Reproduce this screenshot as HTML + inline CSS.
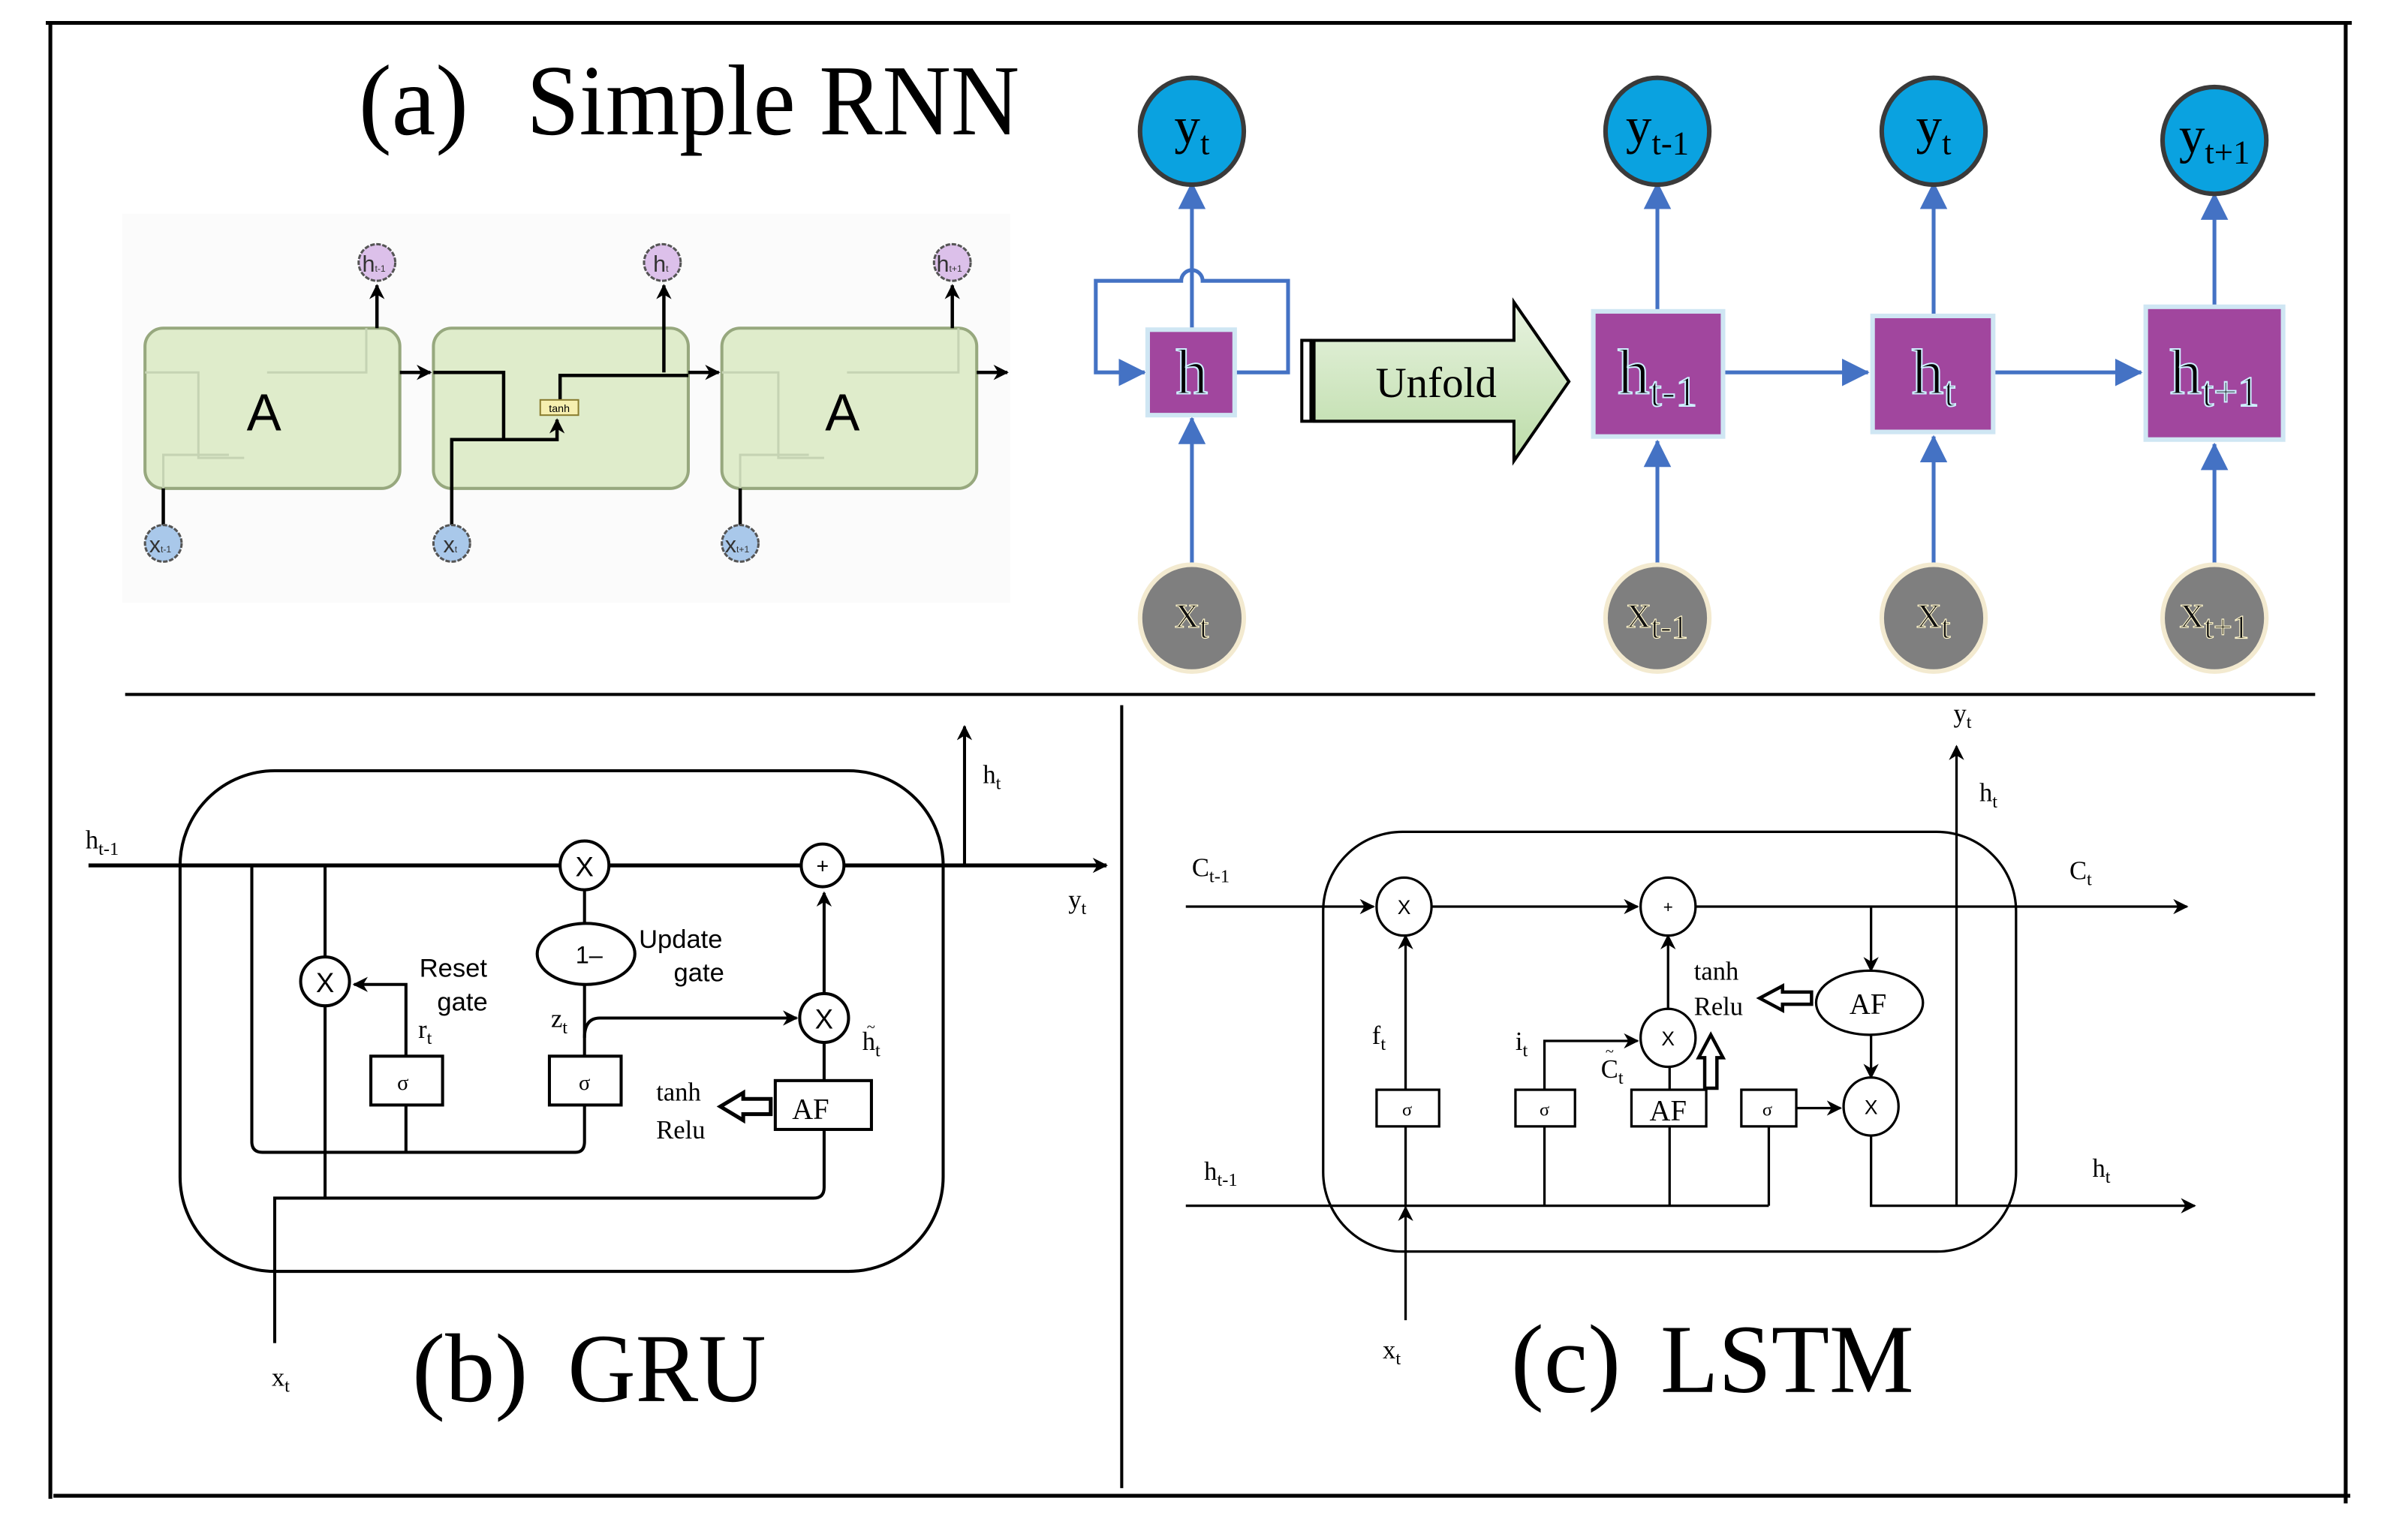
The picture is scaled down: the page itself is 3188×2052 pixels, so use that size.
<!DOCTYPE html>
<html><head><meta charset="utf-8"><style>html,body{margin:0;padding:0;background:#fff}svg{display:block}</style></head>
<body>
<svg width="3188" height="2052" viewBox="0 0 1568 1009" preserveAspectRatio="none" xmlns="http://www.w3.org/2000/svg" font-family="Liberation Serif, serif">
<defs>
<marker id="ab" markerWidth="10" markerHeight="10" refX="9" refY="5" orient="auto" markerUnits="userSpaceOnUse"><path d="M0,0 L10,5 L0,10 L3,5 z" fill="#000"/></marker>
<marker id="ablue" markerWidth="18" markerHeight="18" refX="17" refY="9" orient="auto" markerUnits="userSpaceOnUse"><path d="M0,0 L18,9 L0,18 z" fill="#4472c4"/></marker>
<linearGradient id="gg" x1="0" y1="0" x2="0" y2="1"><stop offset="0" stop-color="#e8f3e0"/><stop offset="1" stop-color="#bcdca8"/></linearGradient>
</defs>
<rect width="1568" height="1009" fill="#fff"/>
<g stroke="#000" stroke-width="2.5" fill="none">
<line x1="30" y1="15" x2="1541" y2="15"/>
<line x1="33" y1="15" x2="33" y2="982"/>
<line x1="35" y1="980" x2="1540" y2="980"/>
<line x1="1537" y1="15" x2="1537" y2="985"/>
<line x1="82" y1="455" x2="1517" y2="455" stroke-width="2"/>
<line x1="735" y1="462" x2="735" y2="975" stroke-width="2"/>
</g>
<text x="235" y="88" font-size="66" textLength="72" lengthAdjust="spacingAndGlyphs">(a)</text>
<text x="345" y="88" font-size="66" textLength="323" lengthAdjust="spacingAndGlyphs">Simple RNN</text>

<rect x="80" y="140" width="582" height="255" fill="#fbfbfb"/>
<g stroke="#97a87e" stroke-width="2" fill="#dfeccb">
<rect x="95" y="215" width="167" height="105" rx="12"/>
<rect x="284" y="215" width="167" height="105" rx="12"/>
<rect x="473" y="215" width="167" height="105" rx="12"/>
</g>
<g stroke="#c5d3b3" stroke-width="1.5" fill="none">
<path d="M95,244 H130 V300 H160"/><path d="M175,244 H240 V215"/><path d="M107,320 V298 H150"/>
<path d="M473,244 H510 V300 H540"/><path d="M555,244 H628 V215"/><path d="M485,320 V298 H530"/>
</g>
<g stroke="#000" stroke-width="2.2" fill="none">
<line x1="262" y1="244" x2="282" y2="244" marker-end="url(#ab)"/>
<line x1="451" y1="244" x2="471" y2="244" marker-end="url(#ab)"/>
<line x1="640" y1="244" x2="660" y2="244" marker-end="url(#ab)"/>
<line x1="247" y1="215" x2="247" y2="187" marker-end="url(#ab)"/>
<line x1="435" y1="244" x2="435" y2="187" marker-end="url(#ab)"/>
<line x1="624" y1="215" x2="624" y2="187" marker-end="url(#ab)"/>
<line x1="107" y1="320" x2="107" y2="344"/>
<line x1="485" y1="320" x2="485" y2="344"/>
<path d="M284,244 H330 V288 H296 V344"/>
<path d="M330,288 H365 V275" marker-end="url(#ab)"/>
<path d="M367,267 V246 H451"/>
</g>
<rect x="354" y="262" width="25" height="10" fill="#f6efb0" stroke="#8a7d30" stroke-width="1"/>
<text x="366.5" y="270" font-size="7" text-anchor="middle" font-family="Liberation Sans, sans-serif">tanh</text>
<text x="173" y="282" font-size="34" text-anchor="middle" font-family="Liberation Sans, sans-serif">A</text>
<text x="552" y="282" font-size="34" text-anchor="middle" font-family="Liberation Sans, sans-serif">A</text>
<g stroke="#555" stroke-width="1.5" stroke-dasharray="3 1">
<circle cx="247" cy="172" r="12" fill="#dcc0ea"/><circle cx="434" cy="172" r="12" fill="#dcc0ea"/><circle cx="624" cy="172" r="12" fill="#dcc0ea"/>
<circle cx="107" cy="356" r="12" fill="#a9c8ea"/><circle cx="296" cy="356" r="12" fill="#a9c8ea"/><circle cx="485" cy="356" r="12" fill="#a9c8ea"/>
</g>
<g font-family="Liberation Sans, sans-serif" font-size="15" fill="#333" text-anchor="middle">
<text x="245" y="178">h<tspan font-size="6">t-1</tspan></text>
<text x="433" y="178">h<tspan font-size="6">t</tspan></text>
<text x="622" y="178">h<tspan font-size="6">t+1</tspan></text>
<text x="105" y="362">x<tspan font-size="6">t-1</tspan></text>
<text x="295" y="362">x<tspan font-size="6">t</tspan></text>
<text x="483" y="362">x<tspan font-size="6">t+1</tspan></text>
</g>

<g stroke="#4472c4" stroke-width="2.5" fill="none">
<line x1="781" y1="370" x2="781" y2="274" marker-end="url(#ablue)"/>
<line x1="781" y1="215" x2="781" y2="120" marker-end="url(#ablue)"/>
<path d="M810,244 H844 V184 H788 A7,7 0 0 0 774,184 H718 V244 H750" marker-end="url(#ablue)"/>
<line x1="1086" y1="370" x2="1086" y2="289" marker-end="url(#ablue)"/>
<line x1="1086" y1="203" x2="1086" y2="120" marker-end="url(#ablue)"/>
<line x1="1267" y1="370" x2="1267" y2="286" marker-end="url(#ablue)"/>
<line x1="1267" y1="206" x2="1267" y2="120" marker-end="url(#ablue)"/>
<line x1="1451" y1="370" x2="1451" y2="291" marker-end="url(#ablue)"/>
<line x1="1451" y1="200" x2="1451" y2="127" marker-end="url(#ablue)"/>
<line x1="1130" y1="244" x2="1224" y2="244" marker-end="url(#ablue)"/>
<line x1="1307" y1="244" x2="1403" y2="244" marker-end="url(#ablue)"/>
</g>
<g fill="#a1469e" stroke="#cfe6f3" stroke-width="3">
<rect x="752" y="216" width="57" height="56"/>
<rect x="1044" y="204" width="85" height="82"/>
<rect x="1227" y="207" width="79" height="76"/>
<rect x="1406" y="201" width="90" height="87"/>
</g>
<g fill="#0aa2e0" stroke="#3a3a3a" stroke-width="3">
<ellipse cx="781" cy="86" rx="34" ry="35"/><ellipse cx="1086" cy="86" rx="34" ry="35"/><ellipse cx="1267" cy="86" rx="34" ry="35"/><ellipse cx="1451" cy="92" rx="34" ry="35"/>
</g>
<g fill="#7f7f7f" stroke="#f3ead0" stroke-width="3">
<ellipse cx="781" cy="405" rx="34" ry="35"/><ellipse cx="1086" cy="405" rx="34" ry="35"/><ellipse cx="1267" cy="405" rx="34" ry="35"/><ellipse cx="1451" cy="405" rx="34" ry="35"/>
</g>
<g font-size="34" text-anchor="middle" fill="#000">
<text x="781" y="94">y<tspan font-size="22" dy="7">t</tspan></text>
<text x="1086" y="94">y<tspan font-size="22" dy="7">t-1</tspan></text>
<text x="1267" y="94">y<tspan font-size="22" dy="7">t</tspan></text>
<text x="1451" y="100">y<tspan font-size="22" dy="7">t+1</tspan></text>
</g>
<g font-size="32" text-anchor="middle" fill="#111" stroke="#fff6cc" stroke-width="0.6">
<text x="781" y="411">x<tspan font-size="22" dy="7">t</tspan></text>
<text x="1086" y="411">x<tspan font-size="22" dy="7">t-1</tspan></text>
<text x="1267" y="411">x<tspan font-size="22" dy="7">t</tspan></text>
<text x="1451" y="411">x<tspan font-size="22" dy="7">t+1</tspan></text>
</g>
<g font-size="42" text-anchor="middle" fill="#000" stroke="#cfefff" stroke-width="1">
<text x="781" y="258">h</text>
<text x="1086" y="258">h<tspan font-size="28" dy="8">t-1</tspan></text>
<text x="1267" y="258">h<tspan font-size="28" dy="8">t</tspan></text>
<text x="1451" y="258">h<tspan font-size="28" dy="8">t+1</tspan></text>
</g>
<rect x="853" y="223" width="6" height="53" fill="#fff" stroke="#000" stroke-width="2"/>
<path d="M861,223 H992 V198 L1028,250 L992,302 V276 H861 Z" fill="url(#gg)" stroke="#000" stroke-width="2"/>
<text x="941" y="260" font-size="28" text-anchor="middle">Unfold</text>

<g stroke="#000" stroke-width="2" fill="none">
<rect x="118" y="505" width="500" height="328" rx="62"/>
<line x1="58" y1="567" x2="725" y2="567" stroke-width="2.6" marker-end="url(#ab)"/>
<line x1="632" y1="567" x2="632" y2="476" marker-end="url(#ab)"/>
<line x1="213" y1="567" x2="213" y2="627"/>
<line x1="213" y1="659" x2="213" y2="785"/>
<path d="M165,567 V748 Q165,755 172,755 H377 Q383,755 383,748 V724"/>
<line x1="266" y1="724" x2="266" y2="755"/>
<path d="M180,880 V785 H533 Q540,785 540,778 V740"/>
<path d="M266,692 V645 H232" marker-end="url(#ab)"/>
<line x1="383" y1="583" x2="383" y2="605"/>
<line x1="383" y1="645" x2="383" y2="692"/>
<path d="M383,680 Q383,667 393,667 H522" marker-end="url(#ab)"/>
<line x1="540" y1="651" x2="540" y2="585" marker-end="url(#ab)"/>
<line x1="540" y1="683" x2="540" y2="708"/>
<circle cx="383" cy="567" r="16" fill="#fff"/>
<circle cx="539" cy="567" r="14" fill="#fff"/>
<circle cx="213" cy="643" r="16" fill="#fff"/>
<circle cx="540" cy="667" r="16" fill="#fff"/>
<ellipse cx="384" cy="625" rx="32" ry="20" fill="#fff"/>
<rect x="243" y="692" width="47" height="32" fill="#fff"/>
<rect x="360" y="692" width="47" height="32" fill="#fff"/>
<rect x="508" y="708" width="63" height="32" fill="#fff"/>
<path d="M505,720 H487 V716 L472,725 L487,734 V730 H505 Z" stroke-width="2.5"/>
</g>
<g font-family="Liberation Sans, sans-serif" font-size="18" text-anchor="middle">
<text x="383" y="574">X</text><text x="539" y="572" font-size="14">+</text><text x="213" y="650">X</text><text x="540" y="674">X</text>
<text x="386" y="631" font-size="16">1–</text>
<text x="297" y="640" font-size="17">Reset</text><text x="303" y="662" font-size="17">gate</text>
<text x="446" y="621" font-size="17">Update</text><text x="458" y="643" font-size="17">gate</text>
</g>
<g font-size="17">
<text x="264" y="714" font-size="14" text-anchor="middle">σ</text><text x="383" y="714" font-size="14" text-anchor="middle">σ</text>
<text x="519" y="733" font-size="19">AF</text>
<text x="430" y="721">tanh</text><text x="430" y="746">Relu</text>
<text x="274" y="680">r<tspan font-size="12" dy="4">t</tspan></text>
<text x="361" y="673">z<tspan font-size="12" dy="4">t</tspan></text>
<text x="565" y="688">h<tspan font-size="12" dy="4">t</tspan></text><text x="568" y="676" font-size="10">~</text>
<text x="56" y="556">h<tspan font-size="12" dy="4">t-1</tspan></text>
<text x="644" y="513">h<tspan font-size="12" dy="4">t</tspan></text>
<text x="700" y="595">y<tspan font-size="12" dy="4">t</tspan></text>
<text x="178" y="908">x<tspan font-size="12" dy="4">t</tspan></text>
</g>
<text x="270" y="918" font-size="64" textLength="76" lengthAdjust="spacingAndGlyphs">(b)</text>
<text x="372" y="918" font-size="64" textLength="130" lengthAdjust="spacingAndGlyphs">GRU</text>

<g stroke="#000" stroke-width="1.6" fill="none">
<rect x="867" y="545" width="454" height="275" rx="52"/>
<line x1="777" y1="594" x2="900" y2="594" marker-end="url(#ab)"/>
<line x1="938" y1="594" x2="1073" y2="594" marker-end="url(#ab)"/>
<line x1="1111" y1="594" x2="1433" y2="594" marker-end="url(#ab)"/>
<line x1="777" y1="790" x2="1159" y2="790"/>
<path d="M1226,743 V790 H1438" marker-end="url(#ab)"/>
<line x1="1282" y1="790" x2="1282" y2="489" marker-end="url(#ab)"/>
<line x1="921" y1="865" x2="921" y2="791" marker-end="url(#ab)"/>
<line x1="921" y1="790" x2="921" y2="738"/>
<line x1="921" y1="714" x2="921" y2="613" marker-end="url(#ab)"/>
<line x1="1012" y1="790" x2="1012" y2="738"/>
<path d="M1012,714 V682 H1073" marker-end="url(#ab)"/>
<line x1="1094" y1="790" x2="1094" y2="738"/>
<line x1="1094" y1="714" x2="1094" y2="698"/>
<line x1="1093" y1="662" x2="1093" y2="613" marker-end="url(#ab)"/>
<line x1="1159" y1="790" x2="1159" y2="738"/>
<line x1="1177" y1="726" x2="1206" y2="726" marker-end="url(#ab)"/>
<line x1="1226" y1="594" x2="1226" y2="636" marker-end="url(#ab)"/>
<line x1="1226" y1="677" x2="1226" y2="706" marker-end="url(#ab)"/>
<ellipse cx="920" cy="594" rx="18" ry="19" fill="#fff"/>
<ellipse cx="1093" cy="594" rx="18" ry="19" fill="#fff"/>
<ellipse cx="1093" cy="680" rx="18" ry="19" fill="#fff"/>
<ellipse cx="1226" cy="725" rx="18" ry="19" fill="#fff"/>
<ellipse cx="1225" cy="657" rx="35" ry="21" fill="#fff"/>
<rect x="902" y="714" width="41" height="24" fill="#fff"/>
<rect x="993" y="714" width="39" height="24" fill="#fff"/>
<rect x="1069" y="714" width="49" height="24" fill="#fff"/>
<rect x="1141" y="714" width="36" height="24" fill="#fff"/>
<path d="M1187,650 H1168 V646 L1153,654 L1168,662 V658 H1187 Z" stroke-width="2.2"/>
<path d="M1117,713 V693 H1113 L1121,678 L1129,693 H1125 V713 Z" stroke-width="2.2"/>
</g>
<g font-size="13" text-anchor="middle" font-family="Liberation Sans, sans-serif">
<text x="920" y="599">X</text><text x="1093" y="598" font-size="11">+</text><text x="1093" y="685">X</text><text x="1226" y="730">X</text>
</g>
<g font-size="17">
<text x="922" y="731" font-size="12" text-anchor="middle">σ</text>
<text x="1012" y="731" font-size="12" text-anchor="middle">σ</text>
<text x="1158" y="731" font-size="12" text-anchor="middle">σ</text>
<text x="1093" y="734" font-size="19" text-anchor="middle">AF</text>
<text x="1224" y="664" font-size="19" text-anchor="middle">AF</text>
<text x="1110" y="642">tanh</text><text x="1110" y="665">Relu</text>
<text x="899" y="684">f<tspan font-size="12" dy="4">t</tspan></text>
<text x="993" y="688">i<tspan font-size="12" dy="4">t</tspan></text>
<text x="1049" y="706">C<tspan font-size="12" dy="4">t</tspan></text><text x="1052" y="692" font-size="10">~</text>
<text x="781" y="574">C<tspan font-size="12" dy="4">t-1</tspan></text>
<text x="1356" y="576">C<tspan font-size="12" dy="4">t</tspan></text>
<text x="789" y="773">h<tspan font-size="12" dy="4">t-1</tspan></text>
<text x="1371" y="771">h<tspan font-size="12" dy="4">t</tspan></text>
<text x="1297" y="525">h<tspan font-size="12" dy="4">t</tspan></text>
<text x="1280" y="473">y<tspan font-size="12" dy="4">t</tspan></text>
<text x="906" y="890">x<tspan font-size="12" dy="4">t</tspan></text>
</g>
<text x="990" y="912" font-size="64" textLength="72" lengthAdjust="spacingAndGlyphs">(c)</text>
<text x="1088" y="912" font-size="64" textLength="166" lengthAdjust="spacingAndGlyphs">LSTM</text>
</svg>
</body></html>
